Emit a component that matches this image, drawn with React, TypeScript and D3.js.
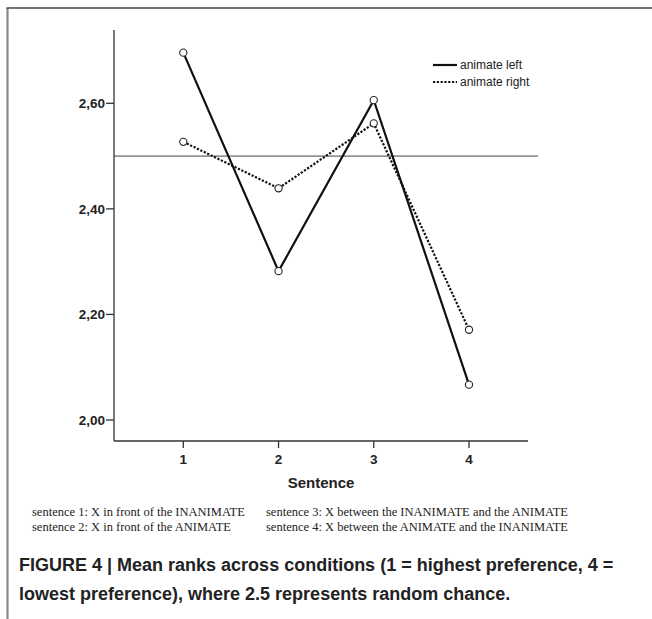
import React from "react";
import * as d3 from "d3";

const sentences = [1, 2, 3, 4];
const animateLeft = [2.696, 2.282, 2.606, 2.067];
const animateRight = [2.527, 2.439, 2.562, 2.171];
const yTicks = [2.0, 2.2, 2.4, 2.6];
const chanceLevel = 2.5;
const seriesNames = ["animate left", "animate right"];
const noteLeft = ["sentence 1: X in front of the INANIMATE", "sentence 2: X in front of the ANIMATE"];
const noteRight = ["sentence 3: X between the INANIMATE and the ANIMATE", "sentence 4: X between the ANIMATE and the INANIMATE"];
const captionLines = [
  "FIGURE 4 | Mean ranks across conditions (1 = highest preference, 4 =",
  "lowest preference), where 2.5 represents random chance.",
];

export default function App() {
  const x = d3.scaleLinear().domain([1, 4]).range([183.3, 469]);
  const y = d3.scaleLinear().domain([2.0, 2.6]).range([420, 103.3]);
  const axisX0 = 114;
  const axisX1 = 528;
  const axisYTop = 30;
  const axisYBottom = 441;

  const line = d3
    .line<number>()
    .x((_, i) => x(sentences[i]))
    .y((d) => y(d));

  const sans = "Liberation Sans, Arial, sans-serif";
  const serif = "Liberation Serif, Times New Roman, serif";

  return (
    <svg
      width={652}
      height={619}
      style={{ position: "absolute", left: 0, top: 0, background: "#fff" }}
    >
      {/* frame */}
      <line x1={7.5} y1={8} x2={7.5} y2={619} stroke="#888" strokeWidth={2.2} />
      <line x1={6.5} y1={8} x2={652} y2={8} stroke="#444" strokeWidth={1.5} />

      {/* axes */}
      <line x1={axisX0} y1={axisYTop} x2={axisX0} y2={axisYBottom} stroke="#333" strokeWidth={1.3} />
      <line x1={axisX0} y1={axisYBottom} x2={axisX1} y2={axisYBottom} stroke="#333" strokeWidth={1.3} />

      {yTicks.map((t) => (
        <g key={t}>
          <line x1={axisX0 - 8} x2={axisX0} y1={y(t)} y2={y(t)} stroke="#333" strokeWidth={1.3} />
          <text
            x={axisX0 - 9}
            y={y(t)}
            dy="0.35em"
            textAnchor="end"
            fontFamily={sans}
            fontWeight="bold"
            fontSize={13.5}
            fill="#222"
          >
            {t.toFixed(2).replace(".", ",")}
          </text>
        </g>
      ))}

      {sentences.map((s) => (
        <g key={s}>
          <line x1={x(s)} x2={x(s)} y1={axisYBottom} y2={axisYBottom + 7} stroke="#333" strokeWidth={1.3} />
          <text
            x={x(s)}
            y={axisYBottom + 18}
            dy="0.35em"
            textAnchor="middle"
            fontFamily={sans}
            fontWeight="bold"
            fontSize={13.5}
            fill="#222"
          >
            {s}
          </text>
        </g>
      ))}
      <text
        x={(axisX0 + axisX1) / 2}
        y={483}
        dy="0.35em"
        textAnchor="middle"
        fontFamily={sans}
        fontWeight="bold"
        fontSize={15}
        fill="#222"
      >
        Sentence
      </text>

      {/* chance line */}
      <line x1={axisX0} x2={538} y1={y(chanceLevel)} y2={y(chanceLevel)} stroke="#444" strokeWidth={1} />

      {/* series */}
      <path d={line(animateLeft) || ""} fill="none" stroke="#111" strokeWidth={2.2} />
      <path
        d={line(animateRight) || ""}
        fill="none"
        stroke="#111"
        strokeWidth={2.2}
        strokeDasharray="2.2,1.6"
      />
      {[animateLeft, animateRight].map((arr, k) =>
        arr.map((v, i) => (
          <circle
            key={`${k}-${i}`}
            cx={x(sentences[i])}
            cy={y(v)}
            r={3.6}
            fill="#fff"
            stroke="#222"
            strokeWidth={1.1}
          />
        ))
      )}

      {/* legend */}
      <line x1={433} x2={457} y1={65} y2={65} stroke="#111" strokeWidth={2.2} />
      <line x1={433} x2={457} y1={82} y2={82} stroke="#111" strokeWidth={2.2} strokeDasharray="2.2,1.6" />
      <text x={460} y={65} dy="0.35em" fontFamily={sans} fontSize={12} fill="#222">
        {seriesNames[0]}
      </text>
      <text x={460} y={82} dy="0.35em" fontFamily={sans} fontSize={12} fill="#222">
        {seriesNames[1]}
      </text>

      {/* notes */}
      {noteLeft.map((t, i) => (
        <text key={t} x={32} y={516 + i * 14.5} fontFamily={serif} fontSize={12.5} fill="#222">
          {t}
        </text>
      ))}
      {noteRight.map((t, i) => (
        <text key={t} x={266} y={516 + i * 14.5} fontFamily={serif} fontSize={12.5} fill="#222">
          {t}
        </text>
      ))}

      {/* caption */}
      {captionLines.map((t, i) => (
        <text
          key={t}
          x={19}
          y={571 + i * 29}
          fontFamily={sans}
          fontWeight="bold"
          fontSize={18}
          fill="#222"
        >
          {t}
        </text>
      ))}
    </svg>
  );
}
